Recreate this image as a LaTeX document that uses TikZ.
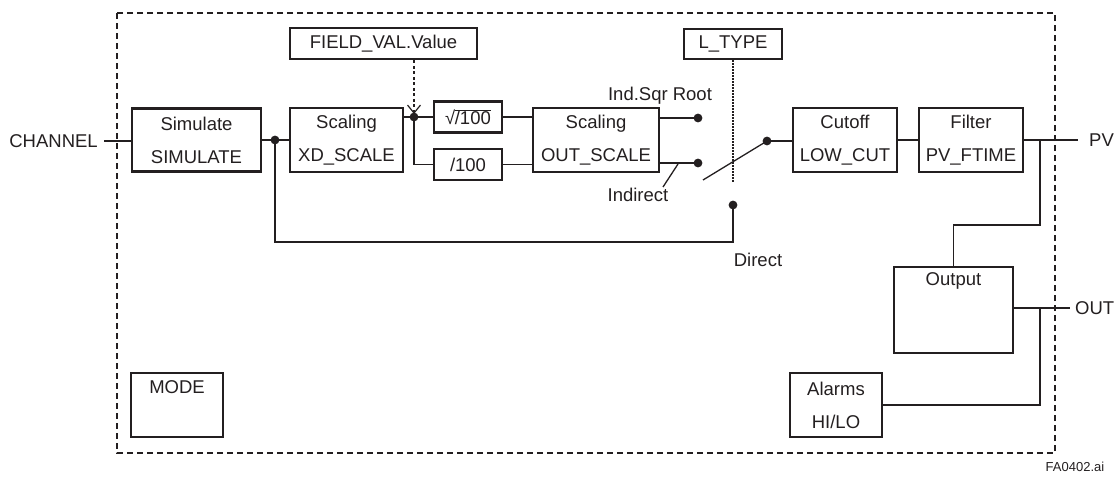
\documentclass[tikz,border=0pt]{standalone}
\usepackage{fontspec}
\setmainfont{Liberation Sans}
\usetikzlibrary{arrows.meta,calc}
\definecolor{ink}{HTML}{231F20}
\begin{document}
\begin{tikzpicture}[x=1pt,y=-1pt,
  blk/.style={draw=ink, line width=2.8pt, inner sep=0pt, align=center, text=ink,
    font=\fontsize{18.5}{33}\selectfont},
  txt/.style={inner sep=0pt, text=ink, font=\fontsize{18.5}{22}\selectfont},
  wire/.style={draw=ink, line width=1.3pt},
  dot/.style={fill=ink},
  frame/.style={draw=ink, line width=1.3pt, dash pattern=on 6pt off 4pt},
  ctrl/.style={draw=ink, line width=1.3pt, dash pattern=on 3pt off 2.5pt},
  sel/.style={draw=ink, line width=1.3pt, dash pattern=on 1.5pt off 1.5pt}]
\useasboundingbox (0,0) rectangle (1116,477);
\draw[frame] (117,13) rectangle (1055,453);

% boxes
\node[blk, minimum width=129pt, minimum height=63pt] (sim) at (196.5,140) {Simulate\\SIMULATE};
\node[blk, minimum width=113pt, minimum height=64pt] (xd) at (346.5,140) {Scaling\\XD\_SCALE};
\node[blk, minimum width=187pt, minimum height=31pt] (fv) at (383.5,43.5) {FIELD\_VAL.Value};
\node[blk, minimum width=68pt, minimum height=31pt] (sq) at (468,117) {\char"221A\kern-0.5pt$\overline{\mbox{/100}}$};
\node[blk, minimum width=68pt, minimum height=31pt] (d100) at (468,164.5) {/100};
\node[blk, minimum width=126pt, minimum height=64pt] (os) at (596,140) {Scaling\\OUT\_SCALE};
\node[blk, minimum width=98pt, minimum height=30pt] (lt) at (733,44) {L\_TYPE};
\node[blk, minimum width=104pt, minimum height=64pt] (cut) at (845,140) {Cutoff\\LOW\_CUT};
\node[blk, minimum width=104pt, minimum height=64pt] (filt) at (971,140) {Filter\\PV\_FTIME};
\node[blk, minimum width=119pt, minimum height=86pt] (outb) at (953.5,310) {};
\node[txt] (outt) at ($(outb.north)+(0,15)$) {Output};
\node[blk, minimum width=92pt, minimum height=64pt] (alm) at (836,405) {Alarms\\HI/LO};
\node[blk, minimum width=92pt, minimum height=64pt] (mode) at (177,405) {};
\node[txt] (modet) at ($(mode.north)+(0,16)$) {MODE};

% texts
\node[txt, anchor=east] (chan) at (98,141) {CHANNEL};
\node[txt, anchor=west] (pv) at (1089,140) {PV};
\node[txt, anchor=west] (outl) at (1075,308) {OUT};
\node[txt] (isr) at (660,96) {Ind.Sqr Root};
\node[txt] (ind) at (638,195) {Indirect};
\node[txt] (dir) at (758,260) {Direct};
\node[inner sep=0pt, text=ink, font=\fontsize{13}{15}\selectfont] (fa) at (1075,467) {FA0402.ai};

% coordinates
\coordinate (chanend) at (104,141);
\coordinate (dotS) at (275,140);
\coordinate (dotA) at (414,117);
\coordinate (dotB) at (698,118);
\coordinate (dotC) at (698,163);
\coordinate (dotD) at (767,141);
\coordinate (dotE) at (733,205);
\coordinate (swL) at (703,180);
\coordinate (ltend) at (733,182);
\coordinate (indA) at (663,187);
\coordinate (indB) at (678,164);
\coordinate (pvend) at (1078,140);
\coordinate (outend) at (1070,308);
\coordinate (brX) at (1040,140);

% connectors
\draw[wire] (chanend) -- (chanend -| sim.west);
\draw[wire] (sim.east) -- (xd.west);
\draw[wire] (xd.east |- dotA) -- (dotA) -- (sq.west);
\draw[wire] (dotA) |- (d100.west);
\draw[wire] (sq.east) -- (os.west |- sq.east);
\draw[wire] (d100.east) -- (os.west |- d100.east);
\draw[wire] (os.east |- dotB) -- (dotB);
\draw[wire] (os.east |- dotC) -- (dotC);
\draw[wire] (indA) -- (indB);
\draw[wire] (swL) -- (dotD);
\draw[wire] (dotD) -- (cut.west |- dotD);
\draw[wire] (dotE) -- (733,242) -| (dotS);
\draw[wire] (cut.east) -- (filt.west);
\draw[wire] (filt.east) -- (pvend);
\draw[wire] (brX) -- (1040,225) -| (outb.north);
\draw[wire] (outb.east |- outend) -- (outend);
\draw[wire] (alm.east) -| (1040,308);
\draw[ctrl, -{Straight Barb[length=8pt,width=13pt,line width=1.2pt]}, shorten >=3pt] (fv.south -| dotA) -- (dotA);
\draw[sel] (lt.south) -- (ltend);

% dots
\foreach \p in {dotS,dotA,dotB,dotC,dotD,dotE}
  \fill[dot] (\p) circle (4.4pt);
\end{tikzpicture}
\end{document}
